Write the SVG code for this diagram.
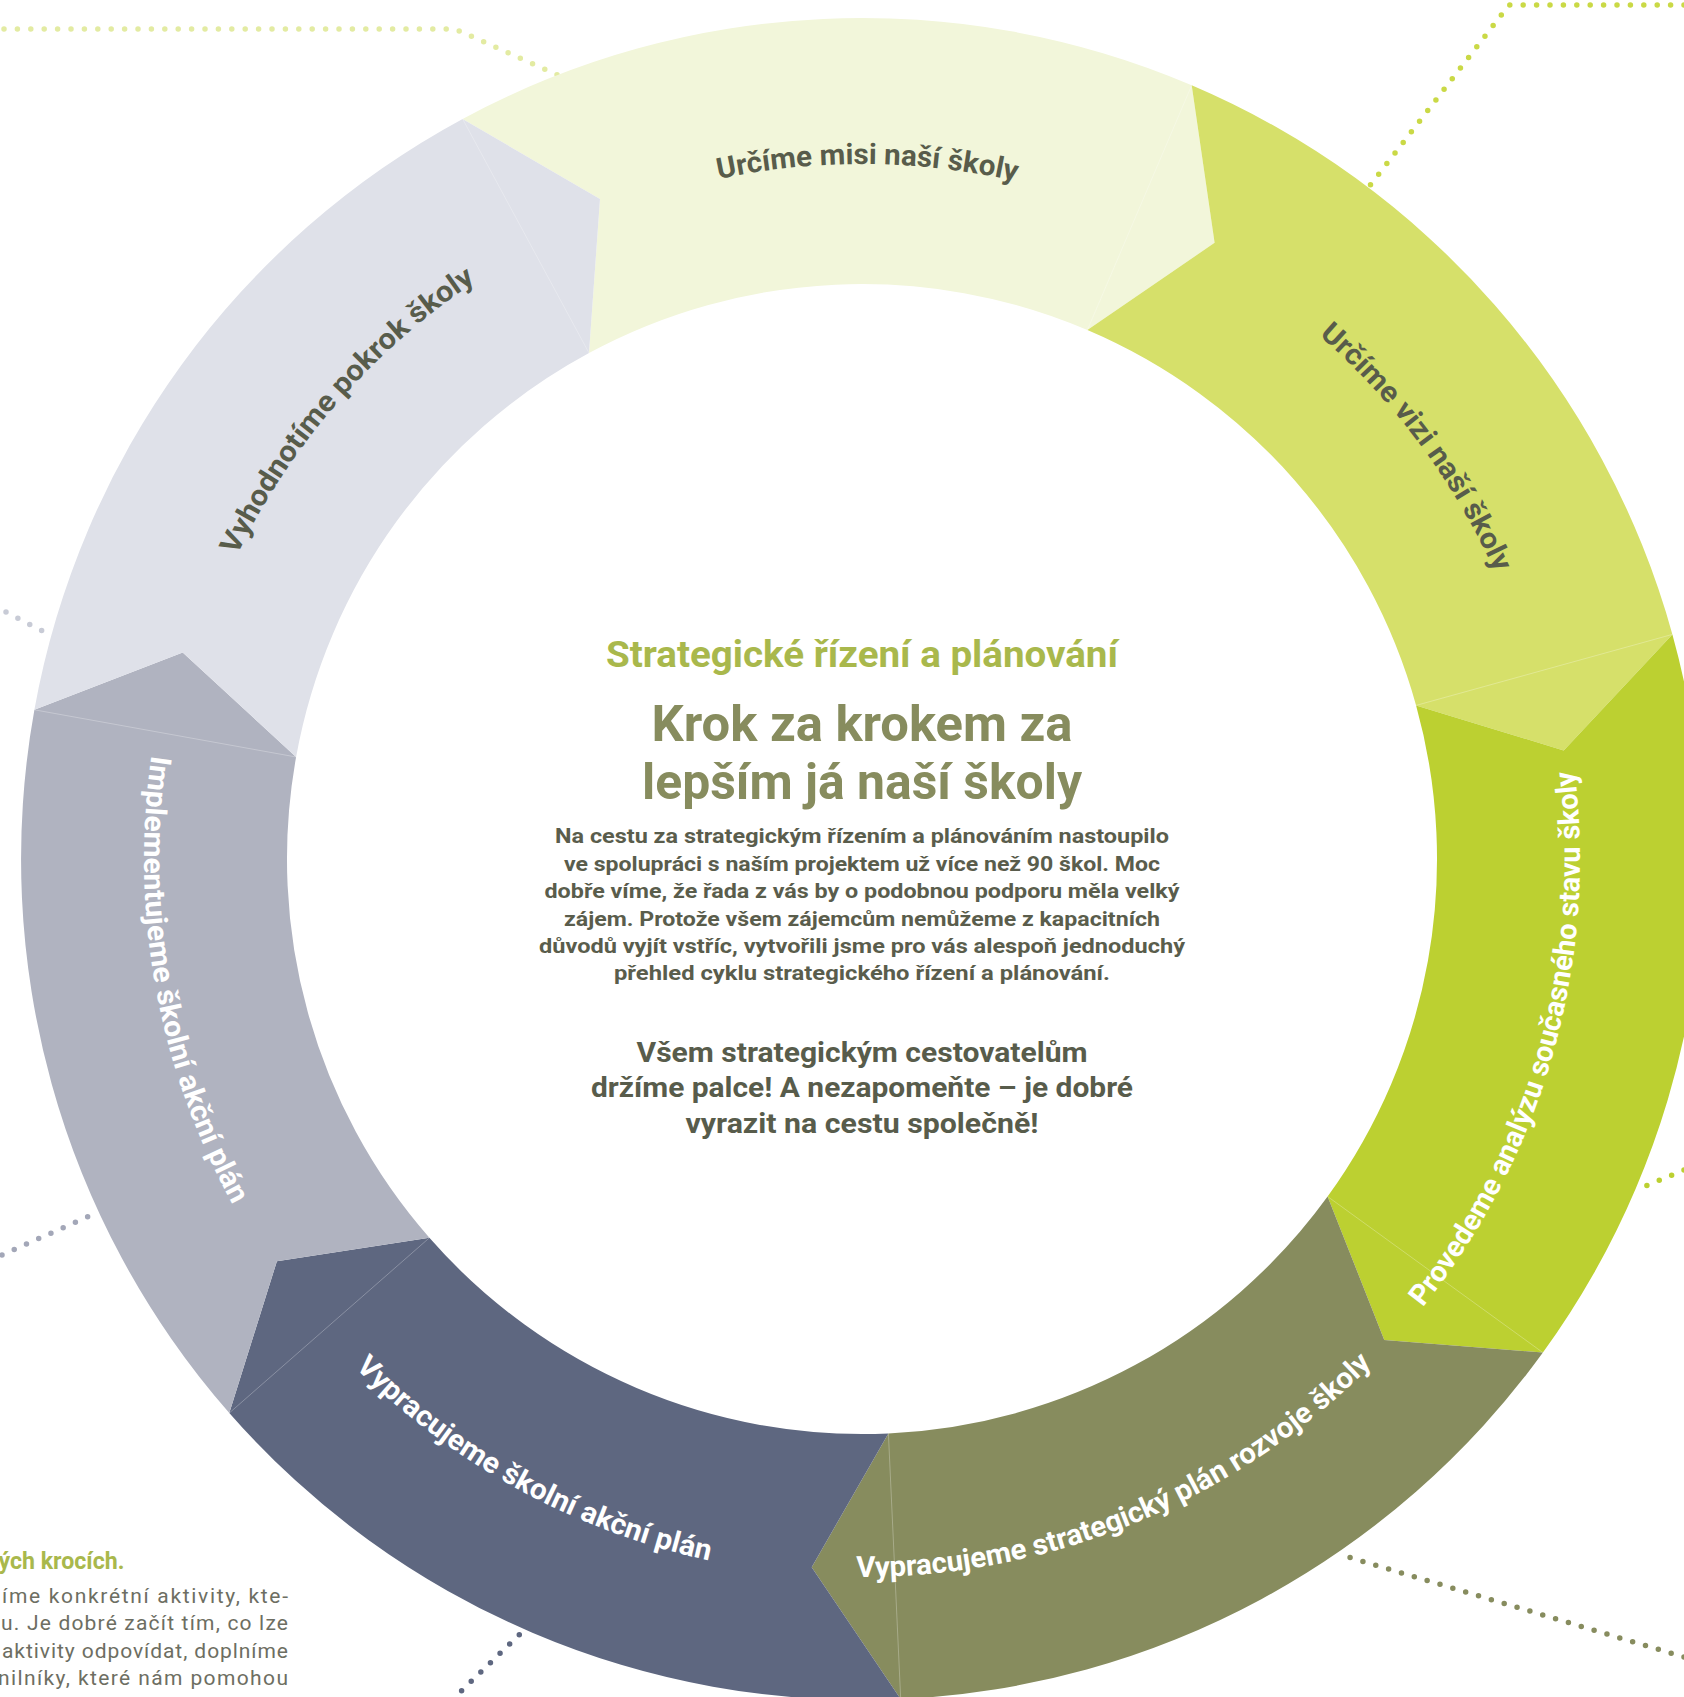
<svg xmlns="http://www.w3.org/2000/svg" width="1684" height="1697" viewBox="0 0 1684 1697">
<style>
.dot{fill:none;stroke-linecap:round;stroke-width:5.5;stroke-dasharray:0 13.4}
.seam{stroke:#fff;stroke-opacity:0.3;stroke-width:0.9;fill:none}
.lbl{font-family:Roboto,"Liberation Sans",sans-serif;font-weight:700;font-size:29px}
.dk{fill:#585c4b}
.wt{fill:#ffffff}
.ctr{font-family:Roboto,"Liberation Sans",sans-serif;font-weight:700;text-anchor:middle}
.side{font-family:Roboto,"Liberation Sans",sans-serif;font-weight:400;font-size:21px;fill:#6d6e62}
</style>
<defs>
<path id="arcTop" d="M260.11,511.5 A695,695 0 0 1 1463.89,511.5"/>
<path id="arcBot" d="M240.19,1218 A718,718 0 0 0 1483.81,1218"/>
</defs>
<rect width="1684" height="1697" fill="#ffffff"/>
<g id="connectors">
<path class="dot" stroke="#e3eba2" d="M4,29 H455 L562,77"/>
<path class="dot" stroke="#cad946" d="M1684,5 H1509 L1365,192"/>
<path class="dot" stroke="#c8cbd6" d="M6,612 L50,635"/>
<path class="dot" stroke="#a3a7b8" d="M2,1255 L96,1213"/>
<path class="dot" stroke="#5e6780" d="M452,1700 L522,1632"/>
<path class="dot" stroke="#878c5e" d="M1684,1657 L1338,1554"/>
<path class="dot" stroke="#bcd031" d="M1684,1170 L1636,1190"/>
</g>
<g id="step-mise">
<path fill="#f2f6da" d="M462.6,118.9 A841,841 0 0 1 1191.7,85.3 L1214.6,242.8 L1087.4,330 A575,575 0 0 0 589,353 L600,199.1 Z"/>
<line class="seam" x1="1191.7" y1="85.3" x2="1087.4" y2="330"/>
<text class="lbl dk" transform="rotate(0.45 862 859)"><textPath href="#arcTop" startOffset="50%" text-anchor="middle" textLength="300" lengthAdjust="spacingAndGlyphs">Určíme misi naší školy</textPath></text>
</g>
<g id="step-vize">
<path fill="#d6e06a" d="M1191.7,85.3 A841,841 0 0 1 1672.4,634.4 L1563.7,750.5 L1416.1,705.4 A575,575 0 0 0 1087.4,330 L1214.6,242.8 Z"/>
<line class="seam" x1="1672.4" y1="634.4" x2="1416.1" y2="705.4"/>
<text class="lbl dk" transform="rotate(53.4 862 859)"><textPath href="#arcTop" startOffset="50%" text-anchor="middle" textLength="298" lengthAdjust="spacingAndGlyphs">Určíme vizi naší školy</textPath></text>
</g>
<g id="step-analyza">
<path fill="#bcd031" d="M1672.4,634.4 A841,841 0 0 1 1542.9,1352.6 L1384.3,1339.9 L1327.6,1196.5 A575,575 0 0 0 1416.1,705.4 L1563.7,750.5 Z"/>
<line class="seam" x1="1542.9" y1="1352.6" x2="1327.6" y2="1196.5"/>
<text class="lbl wt" transform="rotate(-74.2 862 859)"><textPath href="#arcBot" startOffset="50%" text-anchor="middle" textLength="573" lengthAdjust="spacingAndGlyphs">Provedeme analýzu současného stavu školy</textPath></text>
</g>
<g id="step-strategicky-plan">
<path fill="#878c5e" d="M1542.9,1352.6 A841,841 0 0 1 900.7,1699.1 L811.7,1567.2 L888.4,1433.4 A575,575 0 0 0 1327.6,1196.5 L1384.3,1339.9 Z"/>
<line class="seam" x1="900.7" y1="1699.1" x2="888.4" y2="1433.4"/>
<text class="lbl wt" transform="rotate(-22.4 862 859)"><textPath href="#arcBot" startOffset="50%" text-anchor="middle" textLength="573" lengthAdjust="spacingAndGlyphs">Vypracujeme strategický plán rozvoje školy</textPath></text>
</g>
<g id="step-skolni-akcni-plan">
<path fill="#5e6780" d="M900.7,1699.1 A841,841 0 0 1 229.3,1413 L276.9,1261.2 L429.4,1237.8 A575,575 0 0 0 888.4,1433.4 L811.7,1567.2 Z"/>
<line class="seam" x1="229.3" y1="1413" x2="429.4" y2="1237.8"/>
<text class="lbl wt" transform="rotate(28.6 862 859)"><textPath href="#arcBot" startOffset="50%" text-anchor="middle" textLength="409" lengthAdjust="spacingAndGlyphs">Vypracujeme školní akční plán</textPath></text>
</g>
<g id="step-implementace">
<path fill="#b0b3c0" d="M229.3,1413 A841,841 0 0 1 34.4,709.8 L182.7,652.4 L296.1,757 A575,575 0 0 0 429.4,1237.8 L276.9,1261.2 Z"/>
<line class="seam" x1="34.4" y1="709.8" x2="296.1" y2="757"/>
<text class="lbl wt" transform="rotate(79.75 862 859)"><textPath href="#arcBot" startOffset="50%" text-anchor="middle" textLength="465" lengthAdjust="spacingAndGlyphs">Implementujeme školní akční plán</textPath></text>
</g>
<g id="step-vyhodnoceni">
<path fill="#dfe1e9" d="M34.4,709.8 A841,841 0 0 1 462.6,118.9 L600,199.1 L589,353 A575,575 0 0 0 296.1,757 L182.7,652.4 Z"/>
<line class="seam" x1="462.6" y1="118.9" x2="589" y2="353"/>
<text class="lbl dk" transform="rotate(-48.93 862 859)"><textPath href="#arcTop" startOffset="50%" text-anchor="middle" textLength="368" lengthAdjust="spacingAndGlyphs">Vyhodnotíme pokrok školy</textPath></text>
</g>
<g id="center-text">
<text class="ctr" x="862" y="667" font-size="36" fill="#a9b84c" textLength="512" lengthAdjust="spacingAndGlyphs">Strategické řízení a plánování</text>
<text class="ctr" x="862" y="741" font-size="50" fill="#878c5e" textLength="421" lengthAdjust="spacingAndGlyphs">Krok za krokem za</text>
<text class="ctr" x="862" y="799" font-size="50" fill="#878c5e" textLength="440" lengthAdjust="spacingAndGlyphs">lepším já naší školy</text>
<g font-size="20.5" fill="#5a5d4c">
<text class="ctr" x="862" y="843" textLength="614" lengthAdjust="spacingAndGlyphs">Na cestu za strategickým řízením a plánováním nastoupilo</text>
<text class="ctr" x="862" y="870.5" textLength="596" lengthAdjust="spacingAndGlyphs">ve spolupráci s naším projektem už více než 90 škol. Moc</text>
<text class="ctr" x="862" y="898" textLength="635" lengthAdjust="spacingAndGlyphs">dobře víme, že řada z vás by o podobnou podporu měla velký</text>
<text class="ctr" x="862" y="925.5" textLength="596" lengthAdjust="spacingAndGlyphs">zájem. Protože všem zájemcům nemůžeme z kapacitních</text>
<text class="ctr" x="862" y="953" textLength="646" lengthAdjust="spacingAndGlyphs">důvodů vyjít vstříc, vytvořili jsme pro vás alespoň jednoduchý</text>
<text class="ctr" x="862" y="980" textLength="496" lengthAdjust="spacingAndGlyphs">přehled cyklu strategického řízení a plánování.</text>
</g>
<g font-size="27" fill="#585c4b">
<text class="ctr" x="862" y="1062" textLength="451" lengthAdjust="spacingAndGlyphs">Všem strategickým cestovatelům</text>
<text class="ctr" x="862" y="1097" textLength="542" lengthAdjust="spacingAndGlyphs">držíme palce! A nezapomeňte – je dobré</text>
<text class="ctr" x="862" y="1133" textLength="353" lengthAdjust="spacingAndGlyphs">vyrazit na cestu společně!</text>
</g>
</g>
<g id="side-text">
<text x="124.4" y="1569" text-anchor="end" font-family="Roboto, 'Liberation Sans', sans-serif" font-weight="700" font-size="23" fill="#a9b84c" textLength="126" lengthAdjust="spacingAndGlyphs">ých krocích.</text>
<text class="side" x="2" y="1603" textLength="286" lengthAdjust="spacing">íme konkrétní aktivity, kte-</text>
<text class="side" x="1" y="1630" textLength="287" lengthAdjust="spacing">u. Je dobré začít tím, co lze</text>
<text class="side" x="2" y="1658" textLength="286" lengthAdjust="spacing">aktivity odpovídat, doplníme</text>
<text class="side" x="-2" y="1685" textLength="290" lengthAdjust="spacing">nilníky, které nám pomohou</text>
</g>
</svg>
